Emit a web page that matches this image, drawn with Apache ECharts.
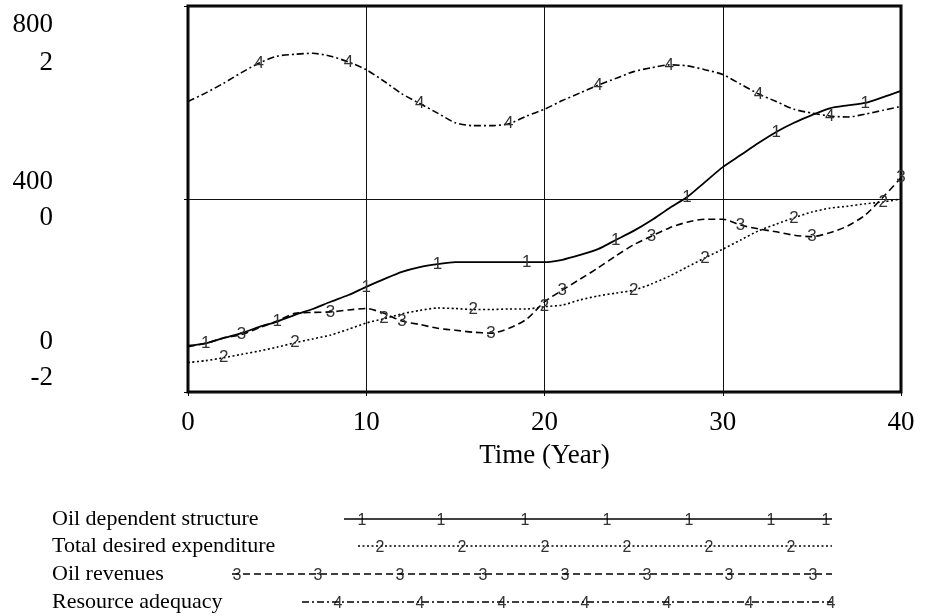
<!DOCTYPE html>
<html><head><meta charset="utf-8">
<script src="https://cdn.jsdelivr.net/npm/echarts@6/dist/echarts.min.js"></script>
<style>html,body{margin:0;padding:0;background:#fff}#c{width:925px;height:616px}</style>
</head><body><div id="c"></div>
<script>
// ---------------- data ----------------
const time = [0,1,2,3,4,5,6,7,8,9,10,11,12,13,14,15,16,17,18,19,20,21,22,23,24,25,26,27,28,29,30,31,32,33,34,35,36,37,38,39,40];
const seriesNames = ['Oil dependent structure','Total desired expenditure','Oil revenues','Resource adequacy'];
const oilDependentStructure = [96,101,112,122,135,146,160,172,187,201,218,234,249,259,265,269,269,269,269,269,269,274,284,296,315,334,356,381,404,435,466,491,516,539,558,574,588,594,599,611,624];
const totalDesiredExpenditure = [61,65,71,78,85,93,102,110,118,130,143,152,162,169,174,173,171,171,172,172,177,180,191,199,205,211,224,240,259,278,296,315,334,348,361,373,381,385,390,394,400];
const oilRevenues = [94,101,112,119,133,147,163,165,166,170,173,163,147,140,132,128,124,122,132,151,187,211,234,257,282,305,323,340,352,358,358,346,338,332,325,322,330,344,367,404,444];
const resourceAdequacy = [1.01,1.10,1.20,1.31,1.41,1.48,1.50,1.51,1.48,1.42,1.34,1.22,1.09,0.99,0.89,0.79,0.76,0.76,0.78,0.86,0.93,1.02,1.10,1.18,1.25,1.32,1.36,1.39,1.38,1.34,1.29,1.19,1.09,1.01,0.93,0.89,0.86,0.85,0.88,0.92,0.96];
// times at which the series number is written on the curve
const markTimes1 = [1,5,10,14,19,24,28,33,38];
const markTimes2 = [2,6,11,16,20,25,29,34,39];
const markTimes3 = [3,8,12,17,21,26,31,35,40];
const markTimes4 = [4,9,13,18,23,27,32,36];
const xTicks = [0,10,20,30,40];
const leftTicks = [0,400,800];
const rightTicks = [-2,0,2];

// ---------------- layout / style ----------------
const SERIF = 'Liberation Serif';
const SANS = 'Liberation Sans';
const GRID = {left:188, right:24, top:6, bottom:224};
// vertical shift (px, + down) of each tick label relative to its tick
const shiftLeft = {'800':19, '400':-17, '0':-50};
const shiftRight = {'2':57, '0':19, '-2':-14};
const LABEL_LH = 30;

function richFor(shifts){
  const rich = {v:{fontSize:27, fontFamily:SERIF, color:'#000', lineHeight:LABEL_LH}};
  Object.keys(shifts).forEach((k,i)=>{
    rich['s'+i] = {fontSize:2, lineHeight:Math.max(1, Math.abs(shifts[k])*2)};
  });
  return rich;
}
function shiftedFormatter(shifts){
  const keys = Object.keys(shifts);
  return function(val){
    const k = String(val);
    const i = keys.indexOf(k);
    if (i < 0) return '{v|' + k + '}';
    const sh = shifts[k];
    if (sh >= 0) return '{s'+i+'| }\n{v|' + k + '}';
    return '{v|' + k + '}\n{s'+i+'| }';
  };
}

const lineTypes = ['solid',[2,2.5],[7,4],[7,3,2,3]];
const allValues = [oilDependentStructure,totalDesiredExpenditure,oilRevenues,resourceAdequacy];
const allMarks = [markTimes1,markTimes2,markTimes3,markTimes4];
const yIndex = [0,0,0,1];

function buildData(values, marks){
  return values.map((v,i)=>{
    if (marks.indexOf(time[i]) >= 0) {
      return {value:[time[i],v], symbol:'circle', symbolSize:1,
        itemStyle:{color:'rgba(0,0,0,0)'}, label:{show:true}};
    }
    return [time[i],v];
  });
}

const series = allValues.map((vals,si)=>({
  name: seriesNames[si],
  type:'line',
  yAxisIndex: yIndex[si],
  data: buildData(vals, allMarks[si]),
  symbol:'none',
  showSymbol:true,
  smooth:0.25,
  lineStyle:{color:'#000', width: si===0?1.8:1.6, type: lineTypes[si]},
  itemStyle:{color:'#000'},
  label:{show:false, position:'inside', formatter: String(si+1), fontFamily:SANS, fontSize:17, color:'#333'},
  emphasis:{disabled:true},
  silent:true,
  z: 3
}));

// legend rows
const legendLeft = 52;
const legendEnd = 832;
const legendStart = [344,358,232,302];
const legendTop = [508,535,563,591];
const legendDigits = [
  [362,441,525,607,689,771,826],
  [380,462,545,627,709,791],
  [237,318,400,483,565,647,729,813],
  [338,420,502,585,667,749,831]
];
const legends = seriesNames.map((nm,i)=>({
  data:[nm], left:legendLeft, top:legendTop[i], padding:0, itemGap:0,
  align:'right', orient:'horizontal', selectedMode:false,
  itemWidth: legendEnd - legendStart[i], itemHeight:14,
  lineStyle:{width:1.5},
  itemStyle:{opacity:0},
  formatter:'{n|{name}}',
  textStyle:{rich:{n:{width: legendStart[i]-legendLeft-5, align:'left', fontSize:22, fontFamily:SERIF, color:'#000', lineHeight:26}}}
}));
const graphics = [];
legendDigits.forEach((xs,i)=>{
  xs.forEach(x=>{
    graphics.push({type:'text', x:x, y:legendTop[i]+13, silent:true,
      style:{text:String(i+1), font:'16px '+SANS, fill:'#333', align:'center', verticalAlign:'middle'}});
  });
});

const chart = echarts.init(document.getElementById('c'), null, {renderer:'canvas'});
chart.setOption({
  animation:false,
  backgroundColor:'#fff',
  grid:{left:GRID.left, right:GRID.right, top:GRID.top, bottom:GRID.bottom, show:true, borderColor:'#000', borderWidth:3, backgroundColor:'transparent', containLabel:false, outerBoundsMode:'none'},
  xAxis:{type:'value', min:xTicks[0], max:xTicks[xTicks.length-1], interval:xTicks[1]-xTicks[0],
    axisLine:{show:false}, axisTick:{show:true, length:4, lineStyle:{color:'#000'}},
    splitLine:{show:true, lineStyle:{color:'#111', width:1}},
    axisLabel:{fontFamily:SERIF, fontSize:27, color:'#000', margin:17},
    name:'Time (Year)', nameLocation:'middle', nameGap:45,
    nameTextStyle:{fontFamily:SERIF, fontSize:27, color:'#000', lineHeight:30}},
  yAxis:[
    {type:'value', min:leftTicks[0], max:leftTicks[leftTicks.length-1], interval:leftTicks[1]-leftTicks[0], position:'left',
      axisLine:{show:false}, axisTick:{show:true, length:4, lineStyle:{color:'#000'}},
      splitLine:{show:true, lineStyle:{color:'#111', width:1}},
      axisLabel:{margin:135, formatter: shiftedFormatter(shiftLeft), rich: richFor(shiftLeft)}},
    {type:'value', min:rightTicks[0], max:rightTicks[rightTicks.length-1], interval:rightTicks[1]-rightTicks[0], position:'left',
      axisLine:{show:false}, axisTick:{show:false}, splitLine:{show:false},
      axisLabel:{margin:135, formatter: shiftedFormatter(shiftRight), rich: richFor(shiftRight)}}
  ],
  legend: legends,
  series: series,
  graphic: graphics
});
</script></body></html>
